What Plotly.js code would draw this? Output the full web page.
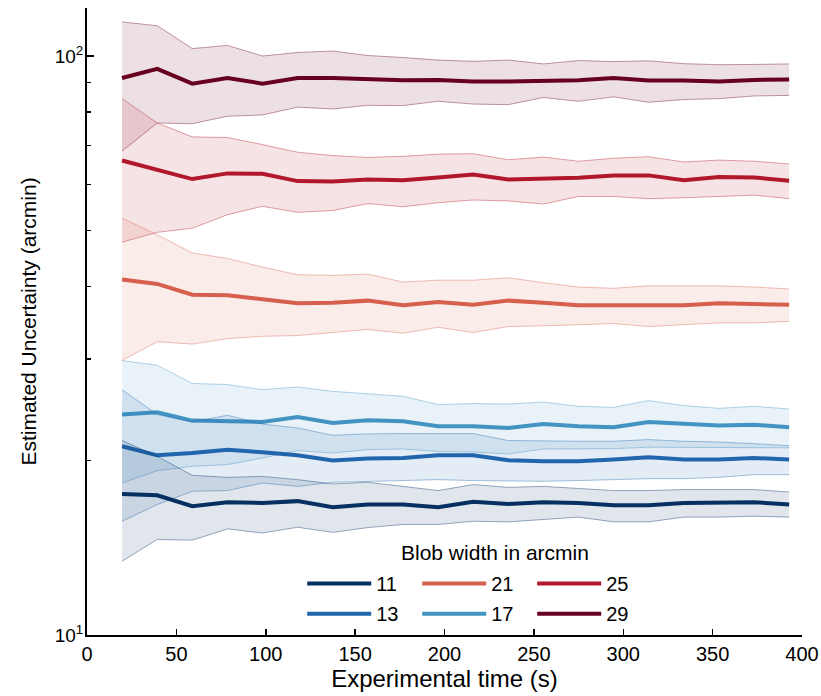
<!DOCTYPE html>
<html><head><meta charset="utf-8">
<script src="https://cdn.plot.ly/plotly-3.0.1.min.js"></script>
<style>html,body{margin:0;padding:0;background:#fff}#chart{width:821px;height:696px}</style>
</head><body><div id="chart"></div>
<script>
// Experimental time (s)
const times = [19.6, 39.3, 58.9, 78.6, 98.2, 117.8, 137.5, 157.1, 176.8, 196.4, 216.0, 235.7, 255.3, 275.0, 294.6, 314.2, 333.9, 353.5, 373.2, 392.8];

// Blob width 11 arcmin
const mean11  = [17.52,17.43,16.69,16.96,16.91,17.03,16.62,16.80,16.80,16.62,16.98,16.84,16.96,16.91,16.75,16.75,16.91,16.96,16.96,16.80];
const upper11 = [21.67,20.35,18.87,18.72,18.79,18.55,18.23,18.35,18.06,17.76,18.19,17.99,18.06,17.90,17.76,17.76,17.83,17.83,17.83,17.66];
const lower11 = [13.41,14.62,14.58,15.25,15.00,15.35,15.04,15.33,15.52,15.52,15.72,15.68,15.83,15.98,15.68,15.68,15.98,15.98,16.04,15.98];
// Blob width 13 arcmin
const mean13  = [21.18,20.43,20.62,20.90,20.68,20.43,20.01,20.17,20.22,20.43,20.43,20.03,19.95,19.95,20.09,20.27,20.09,20.09,20.22,20.09];
const upper13 = [26.53,24.03,23.33,23.96,23.14,22.78,22.13,22.25,22.28,22.25,22.28,21.67,21.61,21.61,21.61,21.75,21.61,21.54,21.40,21.23];
const lower13 = [15.72,16.80,17.71,17.76,18.30,18.06,18.35,18.43,18.48,18.55,18.48,18.43,18.43,18.48,18.55,18.62,18.62,18.72,18.92,18.92];
// Blob width 17 arcmin
const mean17  = [24.03,24.25,23.46,23.40,23.33,23.80,23.24,23.49,23.40,22.93,22.93,22.78,23.15,22.93,22.84,23.33,23.15,23.00,23.08,22.84];
const upper17 = [29.78,29.23,27.19,27.08,26.53,26.81,26.35,26.11,25.84,25.00,25.10,25.05,25.26,24.83,24.73,25.40,24.90,24.63,24.83,24.57];
const lower17 = [18.30,19.22,19.56,19.69,20.22,20.82,20.62,20.90,20.95,20.75,20.70,20.54,20.95,20.95,20.98,21.10,21.10,21.10,21.10,21.05];
// Blob width 21 arcmin
const mean21  = [41.1,40.4,38.7,38.6,38.0,37.4,37.5,37.8,37.1,37.6,37.2,37.8,37.5,37.1,37.1,37.1,37.1,37.4,37.3,37.2];
const upper21 = [52.5,49.1,45.7,44.7,43.2,41.9,41.8,42.0,40.7,41.0,41.0,41.4,40.6,39.9,39.7,40.1,40.1,40.1,39.9,39.6];
const lower21 = [29.8,32.1,31.8,32.5,32.8,32.9,33.3,33.7,33.2,34.0,33.3,34.1,34.2,34.3,34.5,34.1,34.3,34.6,34.6,34.8];
// Blob width 25 arcmin
const mean25  = [66.0,63.6,61.3,62.7,62.6,60.8,60.7,61.2,61.0,61.7,62.4,61.2,61.3,61.6,62.2,62.2,61.0,61.8,61.7,60.9];
const upper25 = [84.4,76.6,72.5,72.3,70.3,68.2,67.3,66.8,67.1,67.7,67.8,66.2,66.9,65.8,66.6,67.0,65.6,66.1,65.8,65.1];
const lower25 = [47.7,49.6,50.4,53.2,55.0,53.7,54.1,55.6,54.9,55.8,56.4,56.2,55.5,57.2,57.2,56.7,56.9,57.2,57.5,56.7];
// Blob width 29 arcmin
const mean29  = [91.6,95.0,89.6,91.6,89.6,91.6,91.6,91.3,90.8,90.9,90.4,90.4,90.7,90.8,91.6,90.7,90.7,90.4,90.9,91.1];
const upper29 = [114.5,112.8,103.0,104.3,100.0,101.4,102.0,100.2,99.4,98.4,97.9,98.4,96.9,98.2,97.8,98.1,97.0,96.6,96.7,96.9];
const lower29 = [68.5,76.6,76.4,78.7,79.1,81.6,81.0,82.2,82.1,83.5,82.6,82.4,84.8,83.5,85.0,83.2,84.1,84.4,85.3,85.5];

const xTicks = [0, 50, 100, 150, 200, 250, 300, 350, 400];
const yMajorTicks = [10, 100];
const yMajorLabels = ['10<sup>1</sup>', '10<sup>2</sup>'];
const yMinorTicks = [20, 30, 40, 50, 60, 70, 80, 90];

const series = [
  {name:'29', rgb:[103,0,31],   m:mean29, u:upper29, l:lower29, legend:'legend2', rank:3},
  {name:'25', rgb:[178,24,43],  m:mean25, u:upper25, l:lower25, legend:'legend',  rank:3},
  {name:'21', rgb:[214,96,77],  m:mean21, u:upper21, l:lower21, legend:'legend',  rank:2},
  {name:'17', rgb:[67,147,195], m:mean17, u:upper17, l:lower17, legend:'legend2', rank:2},
  {name:'13', rgb:[33,102,172], m:mean13, u:upper13, l:lower13, legend:'legend2', rank:1},
  {name:'11', rgb:[5,48,97],    m:mean11, u:upper11, l:lower11, legend:'legend',  rank:1}
];
const rgba = (c,a) => `rgba(${c[0]},${c[1]},${c[2]},${a})`;

const traces = [];
series.forEach(s => {
  traces.push({x:times, y:s.l, mode:'lines', line:{color:rgba(s.rgb,0.4), width:1}, showlegend:false, hoverinfo:'skip'});
  traces.push({x:times, y:s.u, mode:'lines', line:{color:rgba(s.rgb,0.4), width:1}, fill:'tonexty', fillcolor:rgba(s.rgb,0.12), showlegend:false, hoverinfo:'skip'});
  traces.push({x:times, y:s.m, mode:'lines', name:s.name, line:{color:rgba(s.rgb,1), width:4}, legend:s.legend, legendrank:s.rank});
});

const legendBase = {orientation:'h', xanchor:'left', x:0.301, yanchor:'middle', bgcolor:'rgba(0,0,0,0)',
  font:{size:20, color:'#000'}, itemwidth:64, entrywidth:36, traceorder:'normal'};

const layout = {
  width:821, height:696,
  margin:{l:87, r:19, t:8, b:61},
  paper_bgcolor:'#fff', plot_bgcolor:'#fff',
  font:{family:'Liberation Sans, Arial, sans-serif', color:'#000', size:20},
  xaxis:{range:[0,400], tickmode:'array', tickvals:xTicks, ticks:'inside', ticklen:6, tickwidth:1.5, tickcolor:'#000',
    showline:true, linewidth:2, linecolor:'#000', showgrid:false, zeroline:false, tickfont:{size:20},
    title:{text:'Experimental time (s)', font:{size:24}, standoff:4}},
  yaxis:{type:'log', range:[1, 2.0829], tickmode:'array', tickvals:yMajorTicks, ticktext:yMajorLabels,
    ticks:'inside', ticklen:7, tickwidth:1.5, tickcolor:'#000', ticklabelstandoff:-2,
    minor:{tickmode:'array', tickvals:yMinorTicks, ticks:'inside', ticklen:4, tickwidth:1.5, tickcolor:'#000', showgrid:false},
    showline:true, linewidth:2, linecolor:'#000', showgrid:false, zeroline:false, tickfont:{size:19},
    title:{text:'Estimated Uncertainty (arcmin)', font:{size:21}, standoff:12}},
  legend:Object.assign({}, legendBase, {y:0.082}),
  legend2:Object.assign({}, legendBase, {y:0.034}),
  annotations:[{text:'Blob width in arcmin', xref:'paper', yref:'paper', x:0.57, y:0.132,
    xanchor:'center', yanchor:'middle', showarrow:false, font:{size:21, color:'#000'}}],
  showlegend:true
};

Plotly.newPlot('chart', traces, layout, {displayModeBar:false, staticPlot:true});
</script>
</body></html>
